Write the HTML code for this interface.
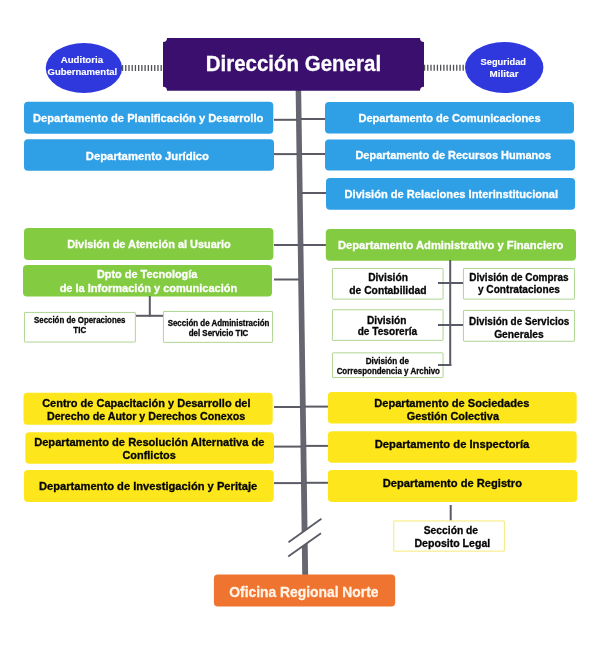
<!DOCTYPE html>
<html><head><meta charset="utf-8"><title>Organigrama</title>
<style>
html,body{margin:0;padding:0;background:#fff;}
body{width:600px;height:650px;overflow:hidden;font-family:"Liberation Sans",sans-serif;}
svg{display:block;will-change:transform;}
text{font-family:"Liberation Sans",sans-serif;font-weight:bold;}
</style></head><body>
<svg width="600" height="650" viewBox="0 0 600 650">
<rect width="600" height="650" fill="#ffffff"/>
<polygon points="295.64,88 301.12,88 308.16,576 302.25,576" fill="#65666f"/>
<line x1="274" y1="119.8" x2="297.07329" y2="119.8" stroke="#5a5b65" stroke-width="2.0"/>
<line x1="274" y1="154.1" x2="297.538055" y2="154.1" stroke="#5a5b65" stroke-width="2.0"/>
<line x1="300.56717000000003" y1="119" x2="326.5" y2="119" stroke="#5a5b65" stroke-width="2.0"/>
<line x1="301.07222" y1="154" x2="326.5" y2="154" stroke="#5a5b65" stroke-width="2.0"/>
<line x1="301.63499" y1="193" x2="326.5" y2="193" stroke="#5a5b65" stroke-width="2.0"/>
<line x1="274" y1="245" x2="298.76975" y2="245" stroke="#5a5b65" stroke-width="2.0"/>
<line x1="274" y1="279.5" x2="299.23722499999997" y2="279.5" stroke="#5a5b65" stroke-width="2.0"/>
<line x1="302.38535" y1="245" x2="327" y2="245" stroke="#5a5b65" stroke-width="2.0"/>
<line x1="274" y1="407" x2="300.96485" y2="407" stroke="#5a5b65" stroke-width="2.0"/>
<line x1="274" y1="446.6" x2="301.50142999999997" y2="446.6" stroke="#5a5b65" stroke-width="2.0"/>
<line x1="274" y1="483.1" x2="301.99600499999997" y2="483.1" stroke="#5a5b65" stroke-width="2.0"/>
<line x1="304.717238" y1="406.6" x2="329" y2="406.6" stroke="#5a5b65" stroke-width="2.0"/>
<line x1="305.28433700000005" y1="445.9" x2="329" y2="445.9" stroke="#5a5b65" stroke-width="2.0"/>
<line x1="305.81680400000005" y1="482.8" x2="329" y2="482.8" stroke="#5a5b65" stroke-width="2.0"/>
<line x1="121.9" y1="67.9" x2="163" y2="67.9" stroke="#505056" stroke-width="6" stroke-dasharray="1.3 1.92"/>
<line x1="423.9" y1="67.8" x2="465.5" y2="67.8" stroke="#505056" stroke-width="6" stroke-dasharray="1.3 1.92"/>
<ellipse cx="83.9" cy="68" rx="38.2" ry="25" fill="#2e38dd"/>
<ellipse cx="504.2" cy="67.5" rx="39.2" ry="25.5" fill="#2e38dd"/>
<text x="60.73" y="63" font-size="9.3" fill="#fff" stroke="#fff" stroke-width="0.12" textLength="42.33" lengthAdjust="spacingAndGlyphs">Auditoria</text>
<text x="47.53" y="75" font-size="9.3" fill="#fff" stroke="#fff" stroke-width="0.12" textLength="69.74" lengthAdjust="spacingAndGlyphs">Gubernamental</text>
<text x="480.54" y="65" font-size="9.3" fill="#fff" stroke="#fff" stroke-width="0.12" textLength="45.53" lengthAdjust="spacingAndGlyphs">Seguridad</text>
<text x="489.54" y="77" font-size="9.3" fill="#fff" stroke="#fff" stroke-width="0.12" textLength="28.93" lengthAdjust="spacingAndGlyphs">Militar</text>
<path d="M167,38 H420 A4,4 0 0 0 424,42 V86.8 A4,4 0 0 0 420,90.8 H167 A4,4 0 0 0 163,86.8 V42 A4,4 0 0 0 167,38 Z" fill="#3a0f6e"/>
<text x="205.7" y="70.8" font-size="22" fill="#fff" stroke="#fff" stroke-width="0.3" textLength="175.4" lengthAdjust="spacingAndGlyphs">Dirección General</text>
<rect x="24" y="101.8" width="249.3" height="31.9" rx="4" ry="4" fill="#2f9fe6"/>
<rect x="24" y="139.3" width="250" height="31.5" rx="4" ry="4" fill="#2f9fe6"/>
<rect x="325" y="102" width="249" height="31.5" rx="4" ry="4" fill="#2f9fe6"/>
<rect x="325" y="139.5" width="250" height="31.0" rx="4" ry="4" fill="#2f9fe6"/>
<rect x="326" y="178" width="249.1" height="31.7" rx="4" ry="4" fill="#2f9fe6"/>
<text x="33.04" y="122" font-size="11.2" fill="#fff" stroke="#fff" stroke-width="0.3" textLength="230.32" lengthAdjust="spacingAndGlyphs">Departamento de Planificación y Desarrollo</text>
<text x="85.74" y="159.8" font-size="11.2" fill="#fff" stroke="#fff" stroke-width="0.3" textLength="123.32" lengthAdjust="spacingAndGlyphs">Departamento Jurídico</text>
<text x="358.44" y="121.7" font-size="11.2" fill="#fff" stroke="#fff" stroke-width="0.3" textLength="182.22" lengthAdjust="spacingAndGlyphs">Departamento de Comunicaciones</text>
<text x="355.44" y="158.9" font-size="11.2" fill="#fff" stroke="#fff" stroke-width="0.3" textLength="195.62" lengthAdjust="spacingAndGlyphs">Departamento de Recursos Humanos</text>
<text x="344.54" y="197.5" font-size="11.2" fill="#fff" stroke="#fff" stroke-width="0.3" textLength="213.52" lengthAdjust="spacingAndGlyphs">División de Relaciones Interinstitucional</text>
<rect x="24" y="228" width="249.4" height="32" rx="4" ry="4" fill="#83cc42"/>
<rect x="23" y="265" width="249" height="31.6" rx="4" ry="4" fill="#83cc42"/>
<rect x="325.8" y="229" width="250.2" height="31.8" rx="4" ry="4" fill="#83cc42"/>
<text x="67.14" y="248" font-size="11.2" fill="#fff" stroke="#fff" stroke-width="0.3" textLength="163.62" lengthAdjust="spacingAndGlyphs">División de Atención al Usuario</text>
<text x="96.94" y="277.8" font-size="11.2" fill="#fff" stroke="#fff" stroke-width="0.3" textLength="100.42" lengthAdjust="spacingAndGlyphs">Dpto de Tecnología</text>
<text x="59.64" y="291.9" font-size="11.2" fill="#fff" stroke="#fff" stroke-width="0.3" textLength="177.62" lengthAdjust="spacingAndGlyphs">de la Información y comunicación</text>
<text x="337.94" y="248.7" font-size="11.2" fill="#fff" stroke="#fff" stroke-width="0.3" textLength="225.52" lengthAdjust="spacingAndGlyphs">Departamento Administrativo y Financiero</text>
<line x1="149.8" y1="296" x2="149.8" y2="316.6" stroke="#5a5b65" stroke-width="2.0"/>
<line x1="136" y1="315.8" x2="163" y2="315.8" stroke="#5a5b65" stroke-width="2.0"/>
<line x1="450.2" y1="260" x2="450.2" y2="366" stroke="#5a5b65" stroke-width="2.0"/>
<line x1="438" y1="283" x2="463" y2="283" stroke="#5a5b65" stroke-width="2.0"/>
<line x1="438" y1="325" x2="463" y2="325" stroke="#5a5b65" stroke-width="2.0"/>
<line x1="438" y1="365" x2="451.2" y2="365" stroke="#5a5b65" stroke-width="2.0"/>
<rect x="24.45" y="312.45" width="110.9" height="29.6" rx="0.5" ry="0.5" fill="#fff" stroke="#a6d088" stroke-width="0.9"/>
<rect x="163.45" y="311.45" width="109.1" height="30.9" rx="0.5" ry="0.5" fill="#fff" stroke="#a6d088" stroke-width="0.9"/>
<rect x="332.45" y="268.45" width="110.6" height="30.7" rx="0.5" ry="0.5" fill="#fff" stroke="#a6d088" stroke-width="0.9"/>
<rect x="463.45" y="268.45" width="111.1" height="30.7" rx="0.5" ry="0.5" fill="#fff" stroke="#a6d088" stroke-width="0.9"/>
<rect x="332.45" y="309.75" width="110.6" height="30.6" rx="0.5" ry="0.5" fill="#fff" stroke="#a6d088" stroke-width="0.9"/>
<rect x="463.45" y="310.45" width="111.1" height="30.8" rx="0.5" ry="0.5" fill="#fff" stroke="#a6d088" stroke-width="0.9"/>
<rect x="332.45" y="352.84999999999997" width="110.6" height="24.7" rx="0.5" ry="0.5" fill="#fff" stroke="#a6d088" stroke-width="0.9"/>
<line x1="438" y1="283" x2="463" y2="283" stroke="#5a5b65" stroke-width="2.0"/>
<line x1="438" y1="325" x2="463" y2="325" stroke="#5a5b65" stroke-width="2.0"/>
<line x1="438" y1="365" x2="451.2" y2="365" stroke="#5a5b65" stroke-width="2.0"/>
<text x="34.05" y="323.4" font-size="9" fill="#050505" stroke="#050505" stroke-width="0.3" textLength="91.4" lengthAdjust="spacingAndGlyphs">Sección de Operaciones</text>
<text x="73.35" y="333" font-size="9" fill="#050505" stroke="#050505" stroke-width="0.3" textLength="12.9" lengthAdjust="spacingAndGlyphs">TIC</text>
<text x="167.65" y="326.4" font-size="9" fill="#050505" stroke="#050505" stroke-width="0.3" textLength="101.7" lengthAdjust="spacingAndGlyphs">Sección de Administración</text>
<text x="188.65" y="336.3" font-size="9" fill="#050505" stroke="#050505" stroke-width="0.3" textLength="59.7" lengthAdjust="spacingAndGlyphs">del Servicio TIC</text>
<text x="368.15" y="281" font-size="11" fill="#050505" stroke="#050505" stroke-width="0.3" textLength="39.8" lengthAdjust="spacingAndGlyphs">División</text>
<text x="349.25" y="294" font-size="11" fill="#050505" stroke="#050505" stroke-width="0.3" textLength="77.3" lengthAdjust="spacingAndGlyphs">de Contabilidad</text>
<text x="469.35" y="281" font-size="11" fill="#050505" stroke="#050505" stroke-width="0.3" textLength="99.2" lengthAdjust="spacingAndGlyphs">División de Compras</text>
<text x="477.95" y="293.2" font-size="11" fill="#050505" stroke="#050505" stroke-width="0.3" textLength="82.0" lengthAdjust="spacingAndGlyphs">y Contrataciones</text>
<text x="367.05" y="323.6" font-size="11" fill="#050505" stroke="#050505" stroke-width="0.3" textLength="39.3" lengthAdjust="spacingAndGlyphs">División</text>
<text x="357.65" y="335.4" font-size="11" fill="#050505" stroke="#050505" stroke-width="0.3" textLength="59.5" lengthAdjust="spacingAndGlyphs">de Tesorería</text>
<text x="469.05" y="325" font-size="11" fill="#050505" stroke="#050505" stroke-width="0.3" textLength="100.3" lengthAdjust="spacingAndGlyphs">División de Servicios</text>
<text x="494.15" y="337.6" font-size="11" fill="#050505" stroke="#050505" stroke-width="0.3" textLength="49.6" lengthAdjust="spacingAndGlyphs">Generales</text>
<text x="365.75" y="364.3" font-size="9" fill="#050505" stroke="#050505" stroke-width="0.3" textLength="43.2" lengthAdjust="spacingAndGlyphs">División de</text>
<text x="336.65" y="374.3" font-size="9" fill="#050505" stroke="#050505" stroke-width="0.3" textLength="103.3" lengthAdjust="spacingAndGlyphs">Correspondencia y Archivo</text>
<rect x="23.5" y="392.8" width="249.2" height="32.0" rx="4" ry="4" fill="#fde71c"/>
<rect x="25.3" y="432.3" width="248.7" height="31.4" rx="4" ry="4" fill="#fde71c"/>
<rect x="24" y="470.1" width="249.7" height="31.8" rx="4" ry="4" fill="#fde71c"/>
<rect x="327.9" y="392" width="248.8" height="31.5" rx="4" ry="4" fill="#fde71c"/>
<rect x="327.9" y="431.2" width="248.8" height="31.5" rx="4" ry="4" fill="#fde71c"/>
<rect x="327.9" y="470.1" width="249.4" height="31.8" rx="4" ry="4" fill="#fde71c"/>
<text x="42.14" y="407.2" font-size="11.2" fill="#050505" stroke="#050505" stroke-width="0.3" textLength="208.42" lengthAdjust="spacingAndGlyphs">Centro de Capacitación y Desarrollo del</text>
<text x="46.94" y="420" font-size="11.2" fill="#050505" stroke="#050505" stroke-width="0.3" textLength="198.32" lengthAdjust="spacingAndGlyphs">Derecho de Autor y Derechos Conexos</text>
<text x="34.14" y="445.9" font-size="11.2" fill="#050505" stroke="#050505" stroke-width="0.3" textLength="230.32" lengthAdjust="spacingAndGlyphs">Departamento de Resolución Alternativa de</text>
<text x="122.44" y="458.7" font-size="11.2" fill="#050505" stroke="#050505" stroke-width="0.3" textLength="53.42" lengthAdjust="spacingAndGlyphs">Conflictos</text>
<text x="38.94" y="489.9" font-size="11.2" fill="#050505" stroke="#050505" stroke-width="0.3" textLength="218.32" lengthAdjust="spacingAndGlyphs">Departamento de Investigación y Peritaje</text>
<text x="374.24" y="406.7" font-size="11.2" fill="#050505" stroke="#050505" stroke-width="0.3" textLength="155.12" lengthAdjust="spacingAndGlyphs">Departamento de Sociedades</text>
<text x="406.74" y="419.5" font-size="11.2" fill="#050505" stroke="#050505" stroke-width="0.3" textLength="92.22" lengthAdjust="spacingAndGlyphs">Gestión Colectiva</text>
<text x="374.74" y="448" font-size="11.2" fill="#050505" stroke="#050505" stroke-width="0.3" textLength="154.62" lengthAdjust="spacingAndGlyphs">Departamento de Inspectoría</text>
<text x="382.74" y="486.7" font-size="11.2" fill="#050505" stroke="#050505" stroke-width="0.3" textLength="139.22" lengthAdjust="spacingAndGlyphs">Departamento de Registro</text>
<line x1="450.7" y1="505" x2="450.7" y2="520.5" stroke="#5a5b65" stroke-width="2.0"/>
<rect x="393.75" y="520.95" width="110.6" height="30.2" rx="0.5" ry="0.5" fill="#fff" stroke="#f4e766" stroke-width="0.9"/>
<text x="423.75" y="534" font-size="11" fill="#050505" stroke="#050505" stroke-width="0.3" textLength="54.3" lengthAdjust="spacingAndGlyphs">Sección de</text>
<text x="414.45" y="546.7" font-size="11" fill="#050505" stroke="#050505" stroke-width="0.3" textLength="75.8" lengthAdjust="spacingAndGlyphs">Deposito Legal</text>
<polygon points="288.5,542.2 321.4,518.7 321,533.2 288.2,556.6" fill="#fff"/>
<line x1="288.5" y1="542.2" x2="321.4" y2="518.7" stroke="#5a5b65" stroke-width="1.8"/>
<line x1="288.2" y1="556.6" x2="321" y2="533.2" stroke="#5a5b65" stroke-width="1.8"/>
<rect x="213.9" y="574.5" width="181.3" height="31.9" rx="4" ry="4" fill="#ee7430"/>
<text x="229.28" y="596.8" font-size="14.3" fill="#fff3e6" stroke="#fff3e6" stroke-width="0.3" textLength="149.23" lengthAdjust="spacingAndGlyphs">Oficina Regional Norte</text>
</svg>
</body></html>
